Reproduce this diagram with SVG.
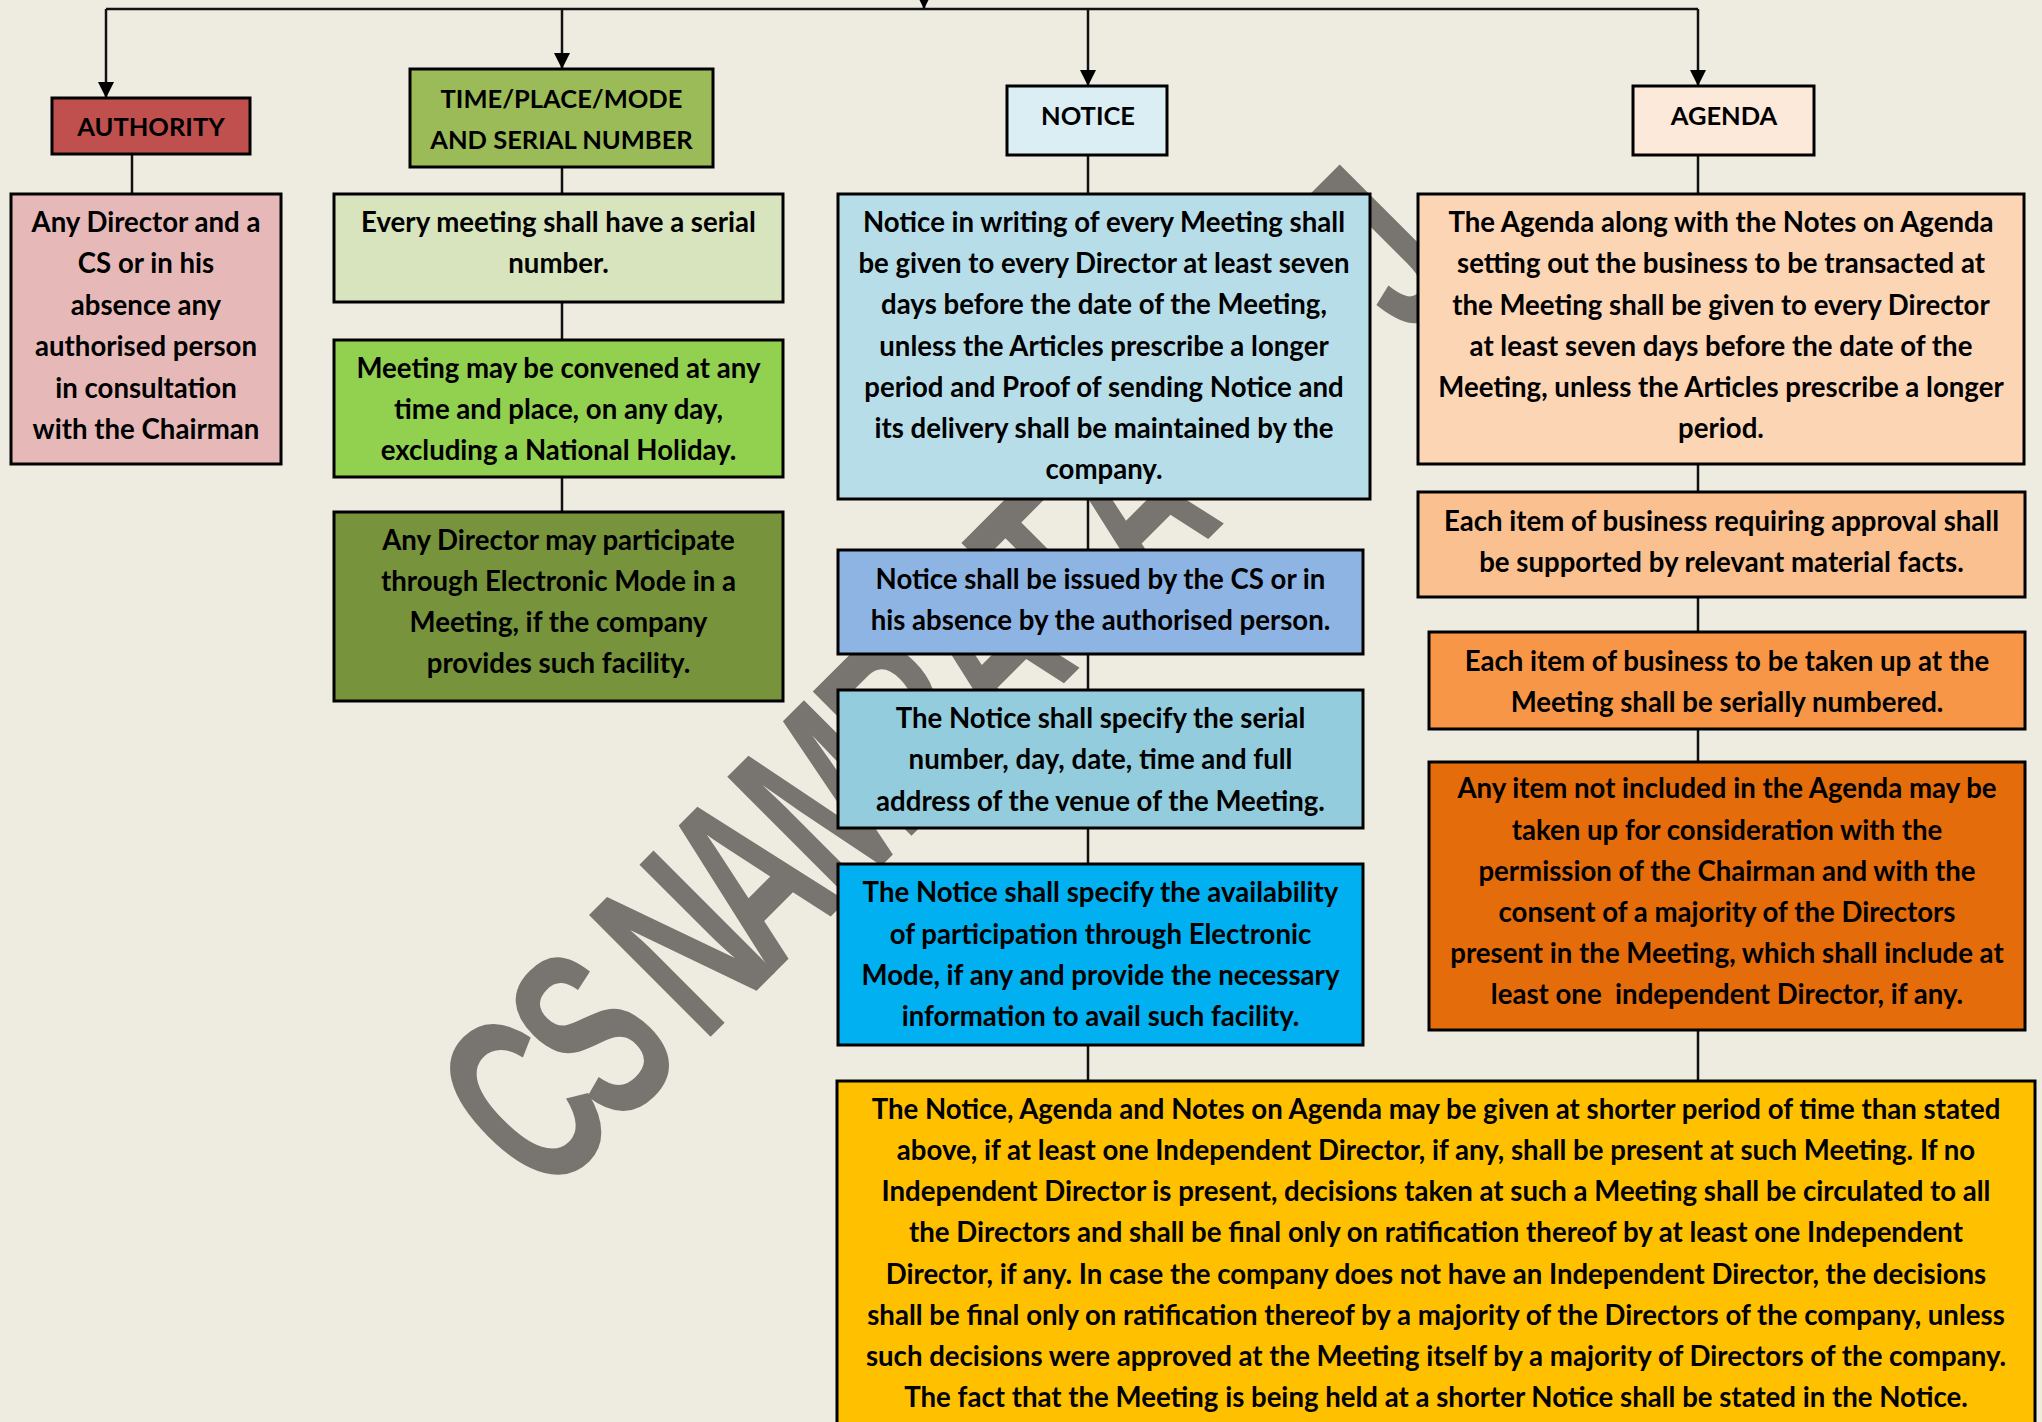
<svg xmlns="http://www.w3.org/2000/svg" width="2042" height="1422" viewBox="0 0 2042 1422">
<defs>
<style>
.bx{stroke:#000;stroke-width:3}
.t{font-family:Lato,"Open Sans","Liberation Sans",sans-serif;font-weight:700;font-size:27.6px;fill:#000;text-anchor:middle}
.h{font-size:25.5px}
.c{stroke:#111;stroke-width:2.5;fill:none}
.wm{font-family:"Liberation Sans",Arial,sans-serif;font-weight:700;font-size:250px;fill:#787570;text-anchor:middle}
</style>
<marker id="ah" viewBox="0 0 10 10" refX="10" refY="5" markerWidth="16" markerHeight="16" markerUnits="userSpaceOnUse" orient="auto">
<path d="M0,0 L10,5 L0,10 z" fill="#000"/>
</marker>
</defs>
<rect x="0" y="0" width="2042" height="1422" fill="#eeece1"/>
<g id="watermark">
<text class="wm" transform="translate(521,1099) rotate(-45) scale(0.62,1)" x="0 155 361 513 690 871 1045 1210 1374 1947" y="90">CSNAMRATAJ</text>
</g>
<g id="connectors">
<path class="c" d="M106,9 H1698"/>
<path class="c" d="M924,-10 V9" marker-end="url(#ah)"/>
<path class="c" d="M106,9 V98" marker-end="url(#ah)"/>
<path class="c" d="M562,9 V69" marker-end="url(#ah)"/>
<path class="c" d="M1088,9 V86" marker-end="url(#ah)"/>
<path class="c" d="M1698,9 V86" marker-end="url(#ah)"/>
<path class="c" d="M132,154 V194"/>
<path class="c" d="M562,167 V194 M562,302 V340 M562,477 V512"/>
<path class="c" d="M1088,155 V194 M1088,499 V550 M1088,654 V690 M1088,828 V864 M1088,1045 V1081"/>
<path class="c" d="M1698,155 V194 M1698,464 V492 M1698,597 V632 M1698,729 V762 M1698,1030 V1081"/>
</g>
<g id="authority">
<rect class="bx" x="52" y="98" width="198" height="56" fill="#c0504d"/>
<text class="t h" x="151" y="136">AUTHORITY</text>
</g>
<g id="time-place">
<rect class="bx" x="410" y="69" width="303" height="98" fill="#9bbb59"/>
<text class="t h" x="561.5" y="108">TIME/PLACE/MODE</text>
<text class="t h" x="561.5" y="149">AND SERIAL NUMBER</text>
</g>
<g id="notice">
<rect class="bx" x="1007" y="86" width="160" height="69" fill="#dbeef4"/>
<text class="t h" x="1088" y="125">NOTICE</text>
</g>
<g id="agenda">
<rect class="bx" x="1633" y="86" width="181" height="69" fill="#fde9d9"/>
<text class="t h" x="1724" y="125">AGENDA</text>
</g>
<g id="authority-detail">
<rect class="bx" x="11" y="194" width="270" height="270" fill="#e6b9b8"/>
<text class="t" x="146" y="232">Any Director and a</text>
<text class="t" x="146" y="273.4">CS or in his</text>
<text class="t" x="146" y="314.8">absence any</text>
<text class="t" x="146" y="356.2">authorised person</text>
<text class="t" x="146" y="397.6">in consultation</text>
<text class="t" x="146" y="439">with the Chairman</text>
</g>
<g id="serial-number">
<rect class="bx" x="334" y="194" width="449" height="108" fill="#d7e4bd"/>
<text class="t" x="558.5" y="232">Every meeting shall have a serial</text>
<text class="t" x="558.5" y="273">number.</text>
</g>
<g id="time-place-detail">
<rect class="bx" x="334" y="340" width="449" height="137" fill="#92d050"/>
<text class="t" x="558.5" y="378">Meeting may be convened at any</text>
<text class="t" x="558.5" y="419">time and place, on any day,</text>
<text class="t" x="558.5" y="460">excluding a National Holiday.</text>
</g>
<g id="electronic-mode">
<rect class="bx" x="334" y="512" width="449" height="189" fill="#77933c"/>
<text class="t" x="558.5" y="550">Any Director may participate</text>
<text class="t" x="558.5" y="591">through Electronic Mode in a</text>
<text class="t" x="558.5" y="632">Meeting, if the company</text>
<text class="t" x="558.5" y="673">provides such facility.</text>
</g>
<g id="notice-writing">
<rect class="bx" x="838" y="194" width="532" height="305" fill="#b7dee8"/>
<text class="t" x="1104" y="232">Notice in writing of every Meeting shall</text>
<text class="t" x="1104" y="273">be given to every Director at least seven</text>
<text class="t" x="1104" y="314">days before the date of the Meeting,</text>
<text class="t" x="1104" y="356">unless the Articles prescribe a longer</text>
<text class="t" x="1104" y="397">period and Proof of sending Notice and</text>
<text class="t" x="1104" y="438">its delivery shall be maintained by the</text>
<text class="t" x="1104" y="479">company.</text>
</g>
<g id="notice-issued">
<rect class="bx" x="838" y="550" width="525" height="104" fill="#8eb4e3"/>
<text class="t" x="1100.5" y="589">Notice shall be issued by the CS or in</text>
<text class="t" x="1100.5" y="630">his absence by the authorised person.</text>
</g>
<g id="notice-serial">
<rect class="bx" x="838" y="690" width="525" height="138" fill="#93cddd"/>
<text class="t" x="1100.5" y="728">The Notice shall specify the serial</text>
<text class="t" x="1100.5" y="769">number, day, date, time and full</text>
<text class="t" x="1100.5" y="811">address of the venue of the Meeting.</text>
</g>
<g id="notice-electronic">
<rect class="bx" x="838" y="864" width="525" height="181" fill="#00b0f0"/>
<text class="t" x="1100.5" y="902">The Notice shall specify the availability</text>
<text class="t" x="1100.5" y="944">of participation through Electronic</text>
<text class="t" x="1100.5" y="985">Mode, if any and provide the necessary</text>
<text class="t" x="1100.5" y="1026">information to avail such facility.</text>
</g>
<g id="agenda-notes">
<rect class="bx" x="1418" y="194" width="606" height="270" fill="#fcd5b5"/>
<text class="t" x="1721" y="232">The Agenda along with the Notes on Agenda</text>
<text class="t" x="1721" y="273">setting out the business to be transacted at</text>
<text class="t" x="1721" y="315">the Meeting shall be given to every Director</text>
<text class="t" x="1721" y="356">at least seven days before the date of the</text>
<text class="t" x="1721" y="397">Meeting, unless the Articles prescribe a longer</text>
<text class="t" x="1721" y="438">period.</text>
</g>
<g id="agenda-approval">
<rect class="bx" x="1418" y="492" width="607" height="105" fill="#fac090"/>
<text class="t" x="1721.5" y="531">Each item of business requiring approval shall</text>
<text class="t" x="1721.5" y="572">be supported by relevant material facts.</text>
</g>
<g id="agenda-numbered">
<rect class="bx" x="1429" y="632" width="596" height="97" fill="#f79646"/>
<text class="t" x="1727" y="671">Each item of business to be taken up at the</text>
<text class="t" x="1727" y="712">Meeting shall be serially numbered.</text>
</g>
<g id="agenda-other-items">
<rect class="bx" x="1429" y="762" width="596" height="268" fill="#e46c0a"/>
<text class="t" x="1727" y="798">Any item not included in the Agenda may be</text>
<text class="t" x="1727" y="840">taken up for consideration with the</text>
<text class="t" x="1727" y="881">permission of the Chairman and with the</text>
<text class="t" x="1727" y="922">consent of a majority of the Directors</text>
<text class="t" x="1727" y="963">present in the Meeting, which shall include at</text>
<text class="t" x="1727" y="1004" xml:space="preserve">least one  independent Director, if any.</text>
</g>
<g id="shorter-notice">
<rect class="bx" x="837" y="1081" width="1198" height="380" fill="#ffc000"/>
<text class="t" x="1436" y="1119">The Notice, Agenda and Notes on Agenda may be given at shorter period of time than stated</text>
<text class="t" x="1436" y="1160">above, if at least one Independent Director, if any, shall be present at such Meeting. If no</text>
<text class="t" x="1436" y="1201">Independent Director is present, decisions taken at such a Meeting shall be circulated to all</text>
<text class="t" x="1436" y="1242">the Directors and shall be final only on ratification thereof by at least one Independent</text>
<text class="t" x="1436" y="1284">Director, if any. In case the company does not have an Independent Director, the decisions</text>
<text class="t" x="1436" y="1325">shall be final only on ratification thereof by a majority of the Directors of the company, unless</text>
<text class="t" x="1436" y="1366">such decisions were approved at the Meeting itself by a majority of Directors of the company.</text>
<text class="t" x="1436" y="1407">The fact that the Meeting is being held at a shorter Notice shall be stated in the Notice.</text>
</g>
</svg>
